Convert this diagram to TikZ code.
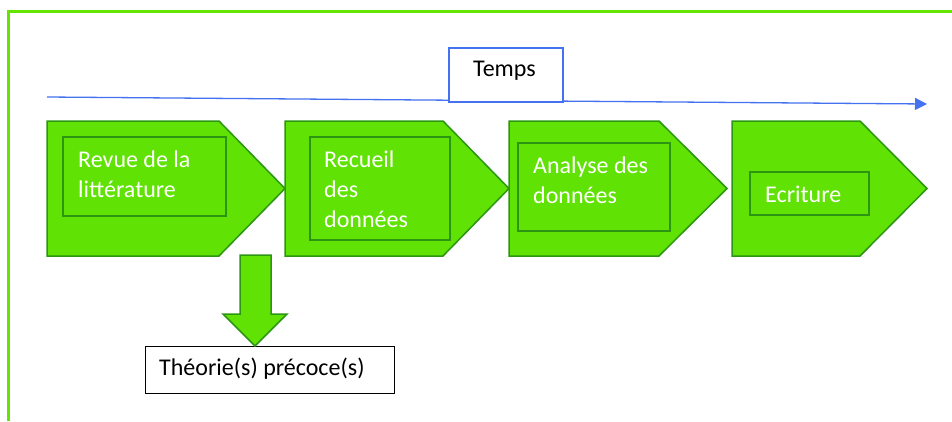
\documentclass[tikz,border=0pt]{standalone}
\usepackage{fontspec}
\setmainfont{Carlito}
\usetikzlibrary{arrows.meta}
\definecolor{framegreen}{RGB}{100,228,0}
\definecolor{chevfill}{RGB}{96,226,4}
\definecolor{chevline}{RGB}{44,150,18}
\definecolor{timeblue}{RGB}{68,114,240}

% chevron: left x, start of point, tip x
\newcommand\chevronshape[3]{%
  \draw[chevron] (#1,121) -- (#2,121) -- (#3,188.5) -- (#2,256) -- (#1,256) -- cycle;}

\begin{document}
\begin{tikzpicture}[x=1pt,y=-1pt,
  chevron/.style={fill=chevfill,draw=chevline,line width=1.5pt,line join=miter},
  stepframe/.style={draw=chevline,line width=1.8pt,inner sep=0pt,outer sep=0pt,anchor=north west},
  steptext/.style={text=white,font=\fontsize{24}{30}\selectfont,align=left,inner sep=0pt,anchor=base west},
  plaintext/.style={text=black,font=\fontsize{24}{30}\selectfont,inner sep=0pt,anchor=base west},
]
\useasboundingbox (0,0) rectangle (952,421);

% outer frame (partly outside the page)
\draw[framegreen,line width=3pt] (8.5,421) -- (8.5,11.5) -- (952,11.5);

% time axis
\coordinate (tstart) at (47,97);
\coordinate (tend) at (927,104);
\draw[timeblue,line width=1.3pt,-{Triangle[length=12pt,width=12pt]}] (tstart) -- (tend);
\node[draw=timeblue,line width=1.8pt,fill=white,minimum width=114pt,minimum height=54pt,
      inner sep=0pt,anchor=north west] (temps) at (448,47) {};
\node[plaintext] (tempstext) at (473,76) {Temps};

% process chevrons
\chevronshape{47}{219}{285}
\chevronshape{285}{443}{509}
\chevronshape{509}{659}{727}
\chevronshape{732}{860}{927}

% inner frames
\node[stepframe,minimum width=163pt,minimum height=79pt] (box1) at (63,137) {};
\node[stepframe,minimum width=140pt,minimum height=103pt] (box2) at (310,137) {};
\node[stepframe,minimum width=152pt,minimum height=88pt] (box3) at (518,143) {};
\node[stepframe,minimum width=119pt,minimum height=43pt] (box4) at (750,172) {};

% step labels (anchored at the baseline of their last line)
\node[steptext] (lab1) at (78,197) {Revue de la\\littérature};
\node[steptext] (lab2) at (324,227) {Recueil\\des\\données};
\node[steptext] (lab3) at (533,203) {Analyse des\\données};
\node[steptext] (lab4) at (765,202) {Ecriture};

% early theory box
\node[draw=black,line width=1pt,fill=white,minimum width=249pt,minimum height=47pt,
      inner sep=0pt,anchor=north west] (theo) at (145,346) {};
\node[plaintext] (theotext) at (159,375) {Théorie(s) précoce(s)};

% block arrow down to the theory box
\draw[chevron] (240,255) -- (271,255) -- (271,314) -- (287,314) -- (255,346)
  -- (223,314) -- (240,314) -- cycle;
\end{tikzpicture}
\end{document}
